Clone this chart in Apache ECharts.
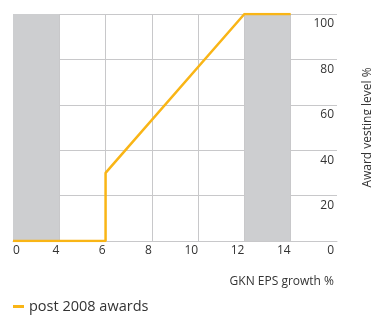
<!DOCTYPE html>
<html>
<head>
<meta charset="utf-8">
<script src="https://cdn.jsdelivr.net/npm/echarts@6/dist/echarts.min.js"></script>
<style>
  html, body { margin: 0; padding: 0; background: #fff; }
  #chart { width: 371px; height: 315px; }
</style>
</head>
<body>
<div id="chart"></div>
<script>
// x axis ticks are evenly spaced although the growth steps are not
var growthTicks = ['0', '4', '6', '8', '10', '12', '14', ''];
var vestingTicks = [0, 20, 40, 60, 80, 100];

// post 2008 awards curve
var curveGrowth = ['0', '6', '6', '12', '14'];
var curveVesting = [0, 0, 30, 100, 100];

// shaded growth ranges (one colour per tick interval)
var bandShade = [true, false, false, false, false, true, false];

var orange = '#F9B516';
var grey = '#CDCED0';
var gridGrey = '#C8C8CA';
var font = 'Open Sans';

var chart = echarts.init(document.getElementById('chart'));

var option = {
    animation: false,
    grid: {
        left: 13,
        right: 34,
        top: 14,
        bottom: 74,
        containLabel: false,
        outerBoundsMode: 'none'
    },
    legend: {
        left: 13,
        top: 299,
        padding: 0,
        icon: 'rect',
        itemWidth: 11,
        itemHeight: 3,
        textStyle: { fontFamily: font, fontSize: 14.5, color: '#333' },
        data: ['post 2008 awards']
    },
    xAxis: {
        type: 'category',
        boundaryGap: false,
        data: growthTicks,
        axisLine: { show: true, lineStyle: { color: gridGrey, width: 1 } },
        axisTick: { show: false },
        axisLabel: {
            interval: 0,
            align: 'right',
            alignMinLabel: 'left',
            margin: 4,
            fontFamily: font,
            fontSize: 12,
            color: '#333'
        },
        splitLine: {
            show: true,
            showMinLine: false,
            showMaxLine: false,
            lineStyle: { color: gridGrey, width: 1 }
        },
        splitArea: {
            show: true,
            areaStyle: {
                color: bandShade.map(function (s) { return s ? grey : 'rgba(0,0,0,0)'; })
            }
        }
    },
    yAxis: {
        type: 'value',
        position: 'right',
        min: vestingTicks[0],
        max: vestingTicks[vestingTicks.length - 1],
        interval: 20,
        axisLine: { show: false },
        axisTick: { show: false },
        axisLabel: {
            inside: true,
            margin: 3,
            verticalAlign: 'top',
            padding: [4, 0, 0, 0],
            fontFamily: font,
            fontSize: 12,
            color: '#333'
        },
        splitLine: { show: true, lineStyle: { color: gridGrey, width: 1 } },
        name: 'Award vesting level %',
        nameLocation: 'middle',
        nameRotate: 90,
        nameGap: 25,
        nameTextStyle: { fontFamily: font, fontSize: 12, color: '#333' }
    },
    graphic: [{
        type: 'text',
        right: 37,
        top: 276,
        style: {
            text: 'GKN EPS growth %',
            font: '12px "Open Sans"',
            fill: '#333'
        }
    }],
    series: [{
        name: 'post 2008 awards',
        type: 'line',
        symbol: 'none',
        itemStyle: { color: orange },
        lineStyle: { color: orange, width: 2.5 },
        data: curveGrowth.map(function (g, i) { return [g, curveVesting[i]]; })
    }]
};

chart.setOption(option);
</script>
</body>
</html>
